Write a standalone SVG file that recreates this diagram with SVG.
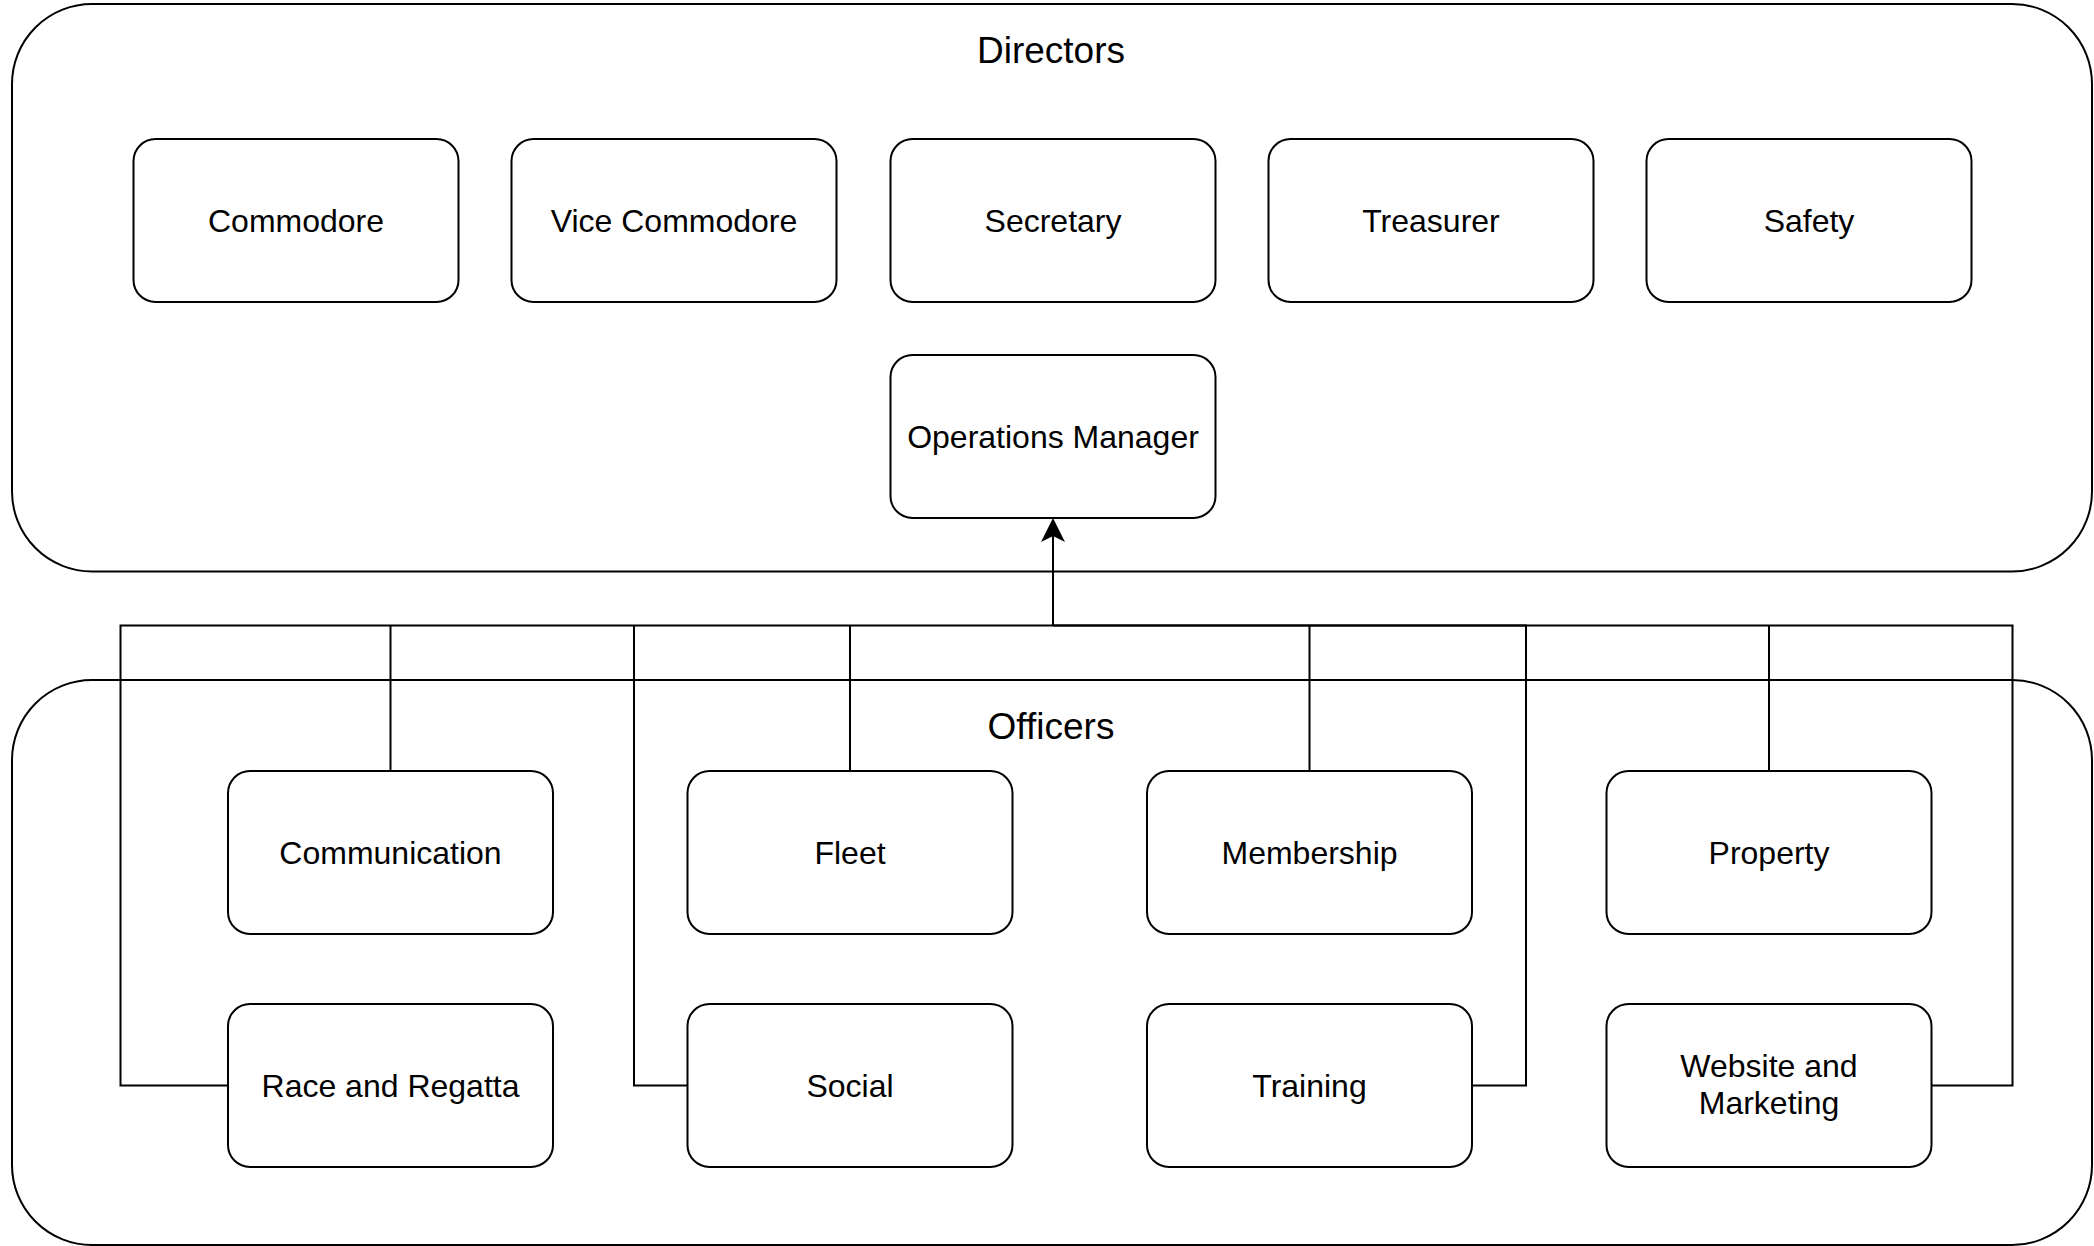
<svg xmlns="http://www.w3.org/2000/svg" width="2094" height="1246" viewBox="0 0 2094 1246">
<style>
.container{fill:#fff;stroke:#000;stroke-width:2}
.node rect{fill:#fff;stroke:#000;stroke-width:2}
text{font-family:"Liberation Sans",Arial,Helvetica,sans-serif;fill:#000;text-anchor:middle}
.title{font-size:37px}
.label{font-size:32px}
.edge{fill:none;stroke:#000;stroke-width:2}
</style>
<defs>
<marker id="arrow" viewBox="0 0 24 24" markerUnits="userSpaceOnUse" markerWidth="24" markerHeight="24" refX="12" refY="12" orient="auto">
<path d="M24 12 L0 0 L6 12 L0 24 Z" fill="#000"/>
</marker>
</defs>
<rect width="2094" height="1246" fill="#fff"/>
<g id="directors">
<rect class="container" x="12" y="4" width="2080" height="567.5" rx="80"/>
<text class="title" x="1051" y="62.5">Directors</text>
</g>
<g id="officers">
<rect class="container" x="12" y="680" width="2080" height="565" rx="80"/>
<text class="title" x="1051" y="738.5">Officers</text>
</g>
<g id="connectors">
<path class="edge" d="M228 1085.5 H120.5 V625.5 H1053"/>
<path class="edge" d="M390.5 771 V625.5"/>
<path class="edge" d="M687.5 1085.5 H634 V625.5"/>
<path class="edge" d="M850 771 V625.5"/>
<path class="edge" d="M1309.5 771 V625.5"/>
<path class="edge" d="M1472 1085.5 H1526 V625.5 H1053"/>
<path class="edge" d="M1769 771 V625.5"/>
<path class="edge" d="M1931.5 1085.5 H2012.5 V625.5 H1053"/>
<path class="edge" d="M1053 625.5 V530" marker-end="url(#arrow)"/>
</g>
<g id="commodore" class="node"><rect x="133.5" y="139" width="325" height="163" rx="22"/><text class="label" x="296" y="232">Commodore</text></g>
<g id="vice-commodore" class="node"><rect x="511.5" y="139" width="325" height="163" rx="22"/><text class="label" x="674" y="232">Vice Commodore</text></g>
<g id="secretary" class="node"><rect x="890.5" y="139" width="325" height="163" rx="22"/><text class="label" x="1053" y="232">Secretary</text></g>
<g id="treasurer" class="node"><rect x="1268.5" y="139" width="325" height="163" rx="22"/><text class="label" x="1431" y="232">Treasurer</text></g>
<g id="safety" class="node"><rect x="1646.5" y="139" width="325" height="163" rx="22"/><text class="label" x="1809" y="232">Safety</text></g>
<g id="operations-manager" class="node"><rect x="890.5" y="355" width="325" height="163" rx="22"/><text class="label" x="1053" y="448">Operations Manager</text></g>
<g id="communication" class="node"><rect x="228" y="771" width="325" height="163" rx="22"/><text class="label" x="390.5" y="864">Communication</text></g>
<g id="fleet" class="node"><rect x="687.5" y="771" width="325" height="163" rx="22"/><text class="label" x="850" y="864">Fleet</text></g>
<g id="membership" class="node"><rect x="1147" y="771" width="325" height="163" rx="22"/><text class="label" x="1309.5" y="864">Membership</text></g>
<g id="property" class="node"><rect x="1606.5" y="771" width="325" height="163" rx="22"/><text class="label" x="1769" y="864">Property</text></g>
<g id="race-and-regatta" class="node"><rect x="228" y="1004" width="325" height="163" rx="22"/><text class="label" x="390.5" y="1097">Race and Regatta</text></g>
<g id="social" class="node"><rect x="687.5" y="1004" width="325" height="163" rx="22"/><text class="label" x="850" y="1097">Social</text></g>
<g id="training" class="node"><rect x="1147" y="1004" width="325" height="163" rx="22"/><text class="label" x="1309.5" y="1097">Training</text></g>
<g id="website-and-marketing" class="node"><rect x="1606.5" y="1004" width="325" height="163" rx="22"/><text class="label" x="1769" y="1077">Website and</text><text class="label" x="1769" y="1113.5">Marketing</text></g>
</svg>
